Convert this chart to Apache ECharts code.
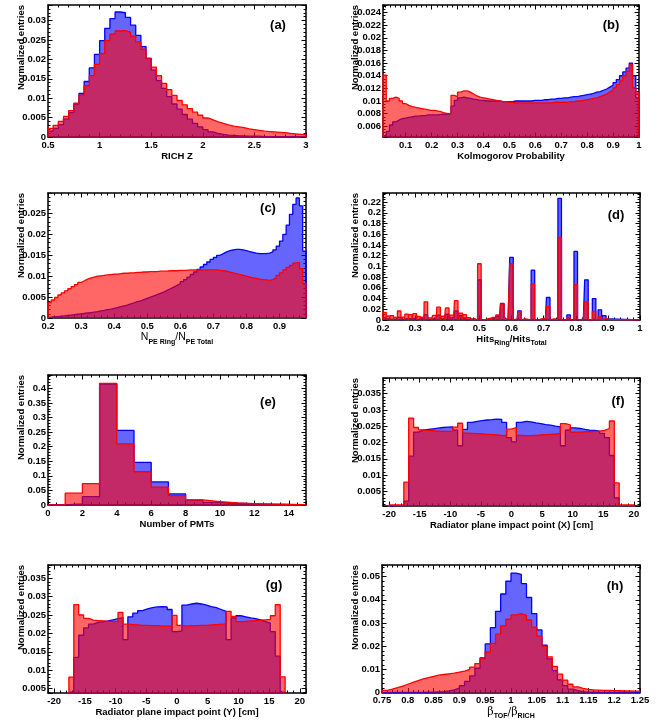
<!DOCTYPE html>
<html><head><meta charset="utf-8">
<script src="https://cdn.jsdelivr.net/npm/echarts@6/dist/echarts.min.js"></script>
<style>html,body{margin:0;padding:0;background:#fff}#c{width:666px;height:721px}</style>
</head><body><div id="c"></div>
<script>
// ---------- DATA ----------
// (a) RICH Z : bins of 0.05 starting at 0.5
const aLo = 0.5, aW = 0.05;
const aBlue = [0.0015,0.0022,0.0032,0.0046,0.0063,0.0085,0.0112,0.0143,0.0178,0.0213,
0.0248,0.0280,0.0305,0.0322,0.0320,0.0308,0.0288,0.0262,0.0233,0.0202,
0.0172,0.0145,0.0125,0.0104,0.0085,0.0072,0.0058,0.0046,0.0035,0.0026,
0.0019,0.0013,0.0009,0.0007,0.0005,0.0004,0.0003,0.0003,0.0002,0.0002,
0.0002,0.0001,0.0001,0.0001,0.0001,0.0001,0.0001,0.0001,0.0001,0.0001];
const aRed = [0.0022,0.0030,0.0040,0.0053,0.0068,0.0087,0.0108,0.0132,0.0158,0.0187,
0.0215,0.0248,0.0265,0.0273,0.0274,0.0270,0.0260,0.0245,0.0226,0.0203,
0.0180,0.0158,0.0138,0.0122,0.0107,0.0094,0.0083,0.0073,0.0064,0.0056,
0.0049,0.0044,0.0039,0.0035,0.0031,0.0028,0.0026,0.0024,0.0021,0.0019,
0.0017,0.0015,0.0014,0.0013,0.0012,0.0011,0.0009,0.0008,0.0007,0.0006];

// (b) Kolmogorov probability : bins of 0.0125 starting at 0.0125
const bLo = 0.0125, bW = 0.0125;
const bRed = [0.0141,0.0100,0.0104,0.0106,0.0104,0.0100,0.0096,0.0093,0.0091,0.0090,
0.0089,0.0088,0.0087,0.0086,0.0085,0.0085,0.0084,0.0083,0.0081,0.0080,
0.0080,0.0109,0.0107,0.0114,0.0116,0.0116,0.0114,0.0111,0.0108,0.0106,
0.0105,0.0104,0.0103,0.0102,0.0101,0.0100,0.0099,0.0099,0.0098,0.0098,
0.0097,0.0097,0.0097,0.0097,0.0097,0.0097,0.0097,0.0097,0.0097,0.0097,
0.0097,0.0097,0.0098,0.0098,0.0098,0.0098,0.0098,0.0099,0.0099,0.0100,
0.0100,0.0101,0.0102,0.0103,0.0104,0.0105,0.0107,0.0109,0.0111,0.0114,
0.0117,0.0121,0.0126,0.0132,0.0140,0.0147,0.0157,0.0121,0.0113];
const bBlue = [0.0045,0.0052,0.0062,0.0067,0.0070,0.0072,0.0073,0.0074,0.0075,0.0076,
0.0076,0.0077,0.0077,0.0078,0.0078,0.0078,0.0078,0.0079,0.0079,0.0079,
0.0080,0.0092,0.0101,0.0105,0.0106,0.0105,0.0104,0.0103,0.0102,0.0101,
0.0101,0.0100,0.0100,0.0100,0.0100,0.0100,0.0099,0.0099,0.0099,0.0099,
0.0100,0.0100,0.0100,0.0100,0.0100,0.0100,0.0101,0.0101,0.0101,0.0102,
0.0102,0.0103,0.0103,0.0104,0.0104,0.0105,0.0105,0.0106,0.0107,0.0107,
0.0108,0.0109,0.0110,0.0111,0.0112,0.0114,0.0115,0.0117,0.0119,0.0122,
0.0125,0.0129,0.0134,0.0140,0.0146,0.0152,0.0160,0.0140,0.0105];

// (c) NPE ring / NPE total : bins of 0.01 starting at 0.2
const cLo = 0.2, cW = 0.01;
const cRed = [0.0037,0.0043,0.0049,0.0055,0.0060,0.0065,0.0070,0.0075,0.0080,0.0085,
0.0089,0.0093,0.0096,0.0098,0.0100,0.0101,0.0102,0.0103,0.0104,0.0105,
0.0105,0.0106,0.0107,0.0107,0.0108,0.0108,0.0109,0.0109,0.0110,0.0110,
0.0111,0.0111,0.0111,0.0112,0.0112,0.0112,0.0113,0.0113,0.0113,0.0114,
0.0114,0.0114,0.0115,0.0115,0.0115,0.0115,0.0115,0.0115,0.0115,0.0115,
0.0115,0.0114,0.0113,0.0112,0.0110,0.0108,0.0106,0.0104,0.0102,0.0100,
0.0098,0.0096,0.0095,0.0093,0.0092,0.0091,0.0090,0.0092,0.0096,0.0102,
0.0108,0.0115,0.0121,0.0126,0.0131,0.0133,0.0118,0.0083];
const cBlue = [0.0002,0.0003,0.0003,0.0004,0.0005,0.0006,0.0007,0.0008,0.0009,0.0010,
0.0011,0.0012,0.0013,0.0014,0.0015,0.0017,0.0018,0.0020,0.0021,0.0023,
0.0025,0.0027,0.0029,0.0031,0.0034,0.0036,0.0039,0.0041,0.0044,0.0047,
0.0050,0.0053,0.0056,0.0059,0.0062,0.0066,0.0070,0.0074,0.0078,0.0082,
0.0087,0.0092,0.0098,0.0104,0.0110,0.0116,0.0122,0.0128,0.0134,0.0140,
0.0145,0.0150,0.0154,0.0158,0.0161,0.0163,0.0164,0.0164,0.0163,0.0161,
0.0159,0.0157,0.0155,0.0154,0.0154,0.0154,0.0155,0.0158,0.0163,0.0172,
0.0184,0.0200,0.0222,0.0248,0.0272,0.0287,0.0268,0.0160];

// (d) Hits ring / Hits total : isolated bins (centres)
const dCenters = [0.2045,0.2160,0.2275,0.2390,0.2505,0.2620,0.2735,0.2850,0.2990,0.3105,
0.3220,0.3335,0.3450,0.3600,0.3730,0.3860,0.4000,0.4140,0.4280,0.4420,
0.4545,0.4670,0.4800,0.5000,0.5200,0.5330,0.5450,0.5570,0.5714,0.5840,
0.6000,0.6125,0.6250,0.6370,0.6667,0.6880,0.7000,0.7143,0.7273,0.7500,
0.7778,0.8000,0.8182,0.8333,0.8571,0.8750,0.8889,0.9000];
const dRed = [0.0144,0.0075,0.0080,0.0050,0.0168,0.0055,0.0110,0.0100,0.0120,0.0065,
0.0055,0.0340,0.0040,0.0085,0.0240,0.0070,0.0225,0.0090,0.0360,0.0130,
0.0100,0.0045,0.0025,0.1050,0.0020,0.0040,0.0050,0.0095,0.0300,0.0030,
0.1050,0.0020,0.0155,0.0020,0.0675,0.0020,0.0030,0.0250,0.0020,0.1540,
0.0050,0.0660,0.0020,0.0340,0.0160,0.0060,0.0030,0.0010];
const dBlue = [0.003,0.001,0.001,0.001,0.005,0.001,0.003,0.002,0.004,0.002,
0.002,0.010,0.001,0.003,0.009,0.003,0.011,0.004,0.017,0.008,
0.004,0.002,0.001,0.075,0.001,0.002,0.003,0.007,0.031,0.002,
0.117,0.001,0.017,0.001,0.093,0.001,0.002,0.042,0.001,0.227,
0.0095,0.128,0.002,0.075,0.040,0.019,0.008,0.002];

// (e) Number of PMTs : bins of 1 starting at 0
const eLo = 0, eW = 1;
const eRed  = [0,0.0406,0.073,0.4176,0.210,0.114,0.0615,0.0325,0.0174,0.0116,0.007,0.005,0.003,0.002,0.0015];
const eBlue = [0,0.004,0.029,0.415,0.256,0.146,0.079,0.038,0.0170,0.009,0.006,0.004,0.003,0.002,0.001];

// (f) impact point X : bins of 0.8 starting at -20
const fLo = -20, fW = 0.8;
const fRed = [0.0008,0.0008,0.0008,0.0078,0.0275,0.0246,0.0239,0.0237,0.0236,0.0235,
0.0234,0.0234,0.0235,0.0247,0.0259,0.0229,0.0228,0.0227,0.0226,0.0225,
0.0224,0.0223,0.0222,0.0221,0.0241,0.0246,0.0222,0.0221,0.0221,0.0222,
0.0223,0.0224,0.0225,0.0226,0.0228,0.0258,0.0254,0.0232,0.0232,0.0233,
0.0233,0.0234,0.0235,0.0237,0.0243,0.0266,0.0076,0.0008,0.0008,0.0008];
const fBlue = [0.0006,0.0006,0.0006,0.0020,0.0158,0.0232,0.0238,0.0240,0.0242,0.0244,
0.0246,0.0247,0.0248,0.0238,0.0190,0.0240,0.0262,0.0265,0.0267,0.0269,
0.0270,0.0272,0.0271,0.0262,0.0215,0.0202,0.0262,0.0265,0.0263,0.0260,
0.0258,0.0255,0.0253,0.0250,0.0248,0.0190,0.0238,0.0245,0.0243,0.0240,
0.0238,0.0237,0.0235,0.0228,0.0215,0.0160,0.0030,0.0006,0.0006,0.0006];

// (g) impact point Y : bins of 0.8 starting at -20
const gLo = -20, gW = 0.8;
const gRed = [0,0,0,0.0081,0.0278,0.0250,0.0241,0.0236,0.0235,0.0234,
0.0233,0.0233,0.0232,0.0257,0.0225,0.0224,0.0223,0.0222,0.0222,0.0221,
0.0221,0.0220,0.0220,0.0220,0.0249,0.0222,0.0220,0.0221,0.0221,0.0222,
0.0222,0.0223,0.0224,0.0225,0.0226,0.0260,0.0246,0.0232,0.0233,0.0234,
0.0235,0.0236,0.0237,0.0238,0.0248,0.0278,0.0082,0,0,0];
const gBlue = [0,0,0,0.0040,0.0135,0.0195,0.0215,0.0225,0.0230,0.0232,
0.0234,0.0237,0.0240,0.0243,0.0183,0.0245,0.0255,0.0262,0.0267,0.0270,
0.0272,0.0273,0.0272,0.0265,0.0205,0.0207,0.0277,0.0280,0.0282,0.0280,
0.0277,0.0273,0.0270,0.0265,0.0260,0.0183,0.0242,0.0248,0.0245,0.0242,
0.0240,0.0237,0.0232,0.0228,0.0205,0.0138,0.0040,0,0,0];

// (h) beta TOF / beta RICH : bins of 0.01 starting at 0.75
const hLo = 0.75, hW = 0.01;
const hRed = [0.0010,0.0015,0.0021,0.0028,0.0036,0.0044,0.0052,0.0059,0.0065,0.0070,
0.0075,0.0078,0.0081,0.0084,0.0088,0.0093,0.0100,0.0110,0.0125,0.0145,
0.0175,0.0212,0.0252,0.0288,0.0317,0.0335,0.0340,0.0333,0.0313,0.0282,
0.0243,0.0199,0.0154,0.0113,0.0080,0.0054,0.0036,0.0025,0.0018,0.0014,
0.0012,0.0011,0.0010,0.0009,0.0008,0.0008,0.0007,0.0007,0.0006,0.0006];
const hBlue = [0.0001,0.0001,0.0001,0.0001,0.0001,0.0001,0.0001,0.0001,0.0002,0.0002,
0.0003,0.0004,0.0007,0.0012,0.0019,0.0030,0.0048,0.0072,0.0105,0.0150,
0.0210,0.0280,0.0350,0.0425,0.0480,0.0515,0.0510,0.0470,0.0410,0.0340,
0.0270,0.0205,0.0145,0.0095,0.0055,0.0030,0.0015,0.0008,0.0004,0.0002,
0.0002,0.0002,0.0001,0.0001,0.0001,0.0001,0.0001,0.0001,0.0001,0.0001];

// axis titles / labels
const yTitle = 'Normalized entries';
const panelLabels = ['(a)','(b)','(c)','(d)','(e)','(f)','(g)','(h)'];
const xTitles = [
  'RICH Z',
  'Kolmogorov Probability',
  '{m|N}{s|PE Ring}{m|/N}{s|PE Total}',
  '{b|Hits}{s|Ring}{b|/Hits}{s|Total}',
  'Number of PMTs',
  'Radiator plane impact point (X) [cm]',
  'Radiator plane impact point (Y) [cm]',
  '{g|\u03b2}{s|TOF}{g|/\u03b2}{s|RICH}'
];

// ---------- helpers ----------
function histPoints(lo, w, vals) {
  const pts = [[lo, 0]];
  vals.forEach((v, i) => pts.push([lo + i * w, v]));
  const end = lo + vals.length * w;
  pts.push([end, vals[vals.length - 1]]);
  pts.push([end, 0]);
  return pts;
}
function barPoints(centers, hw, vals, x0, x1) {
  const pts = [[x0, 0]];
  centers.forEach((c, i) => { pts.push([c - hw, 0], [c - hw, vals[i]], [c + hw, 0]); });
  pts.push([x1, 0]);
  return pts;
}
const series_data = [
  [histPoints(aLo, aW, aBlue), histPoints(aLo, aW, aRed)],
  [histPoints(bLo, bW, bBlue), histPoints(bLo, bW, bRed)],
  [histPoints(cLo, cW, cBlue), histPoints(cLo, cW, cRed)],
  [barPoints(dCenters, 0.0055, dBlue, 0.2, 1.0), barPoints(dCenters, 0.0055, dRed, 0.2, 1.0)],
  [histPoints(eLo, eW, eBlue), histPoints(eLo, eW, eRed)],
  [histPoints(fLo, fW, fBlue), histPoints(fLo, fW, fRed)],
  [histPoints(gLo, gW, gBlue), histPoints(gLo, gW, gRed)],
  [histPoints(hLo, hW, hBlue), histPoints(hLo, hW, hRed)]
];

// ---------- layout ----------
const FONT = 'Liberation Sans';
const panels = [
  {grid:[48,5,258,132],   x:{min:0.5,max:3,iv:0.5,minor:5},      y:{min:0,max:0.034,iv:0.005,minor:5},   lab:[278,25],  ytx:21,  gap:13},
  {grid:[383,5,256,132],  x:{min:0.0125,max:1,iv:0.1,minor:5},   y:{min:0.0043,max:0.0252,iv:0.002,minor:4}, lab:[611,25], ytx:355, gap:12},
  {grid:[48,193,258,125], x:{min:0.2,max:0.98,iv:0.1,minor:5},   y:{min:0,max:0.0299,iv:0.005,minor:5},  lab:[268,208], ytx:21,  gap:9},
  {grid:[383,193,257,127],x:{min:0.2,max:1,iv:0.1,minor:5},      y:{min:0,max:0.237,iv:0.02,minor:4},    lab:[616,215], ytx:355, gap:7},
  {grid:[48,375,258,130], x:{min:0,max:15,iv:2,minor:4},         y:{min:0,max:0.446,iv:0.05,minor:5},    lab:[268,402], ytx:21,  gap:12},
  {grid:[383,378,257,128],x:{min:-21,max:21,iv:5,minor:5},       y:{min:0.0005,max:0.0398,iv:0.005,minor:5}, lab:[618,401], ytx:355, gap:12},
  {grid:[48,565,258,128], x:{min:-21,max:21,iv:5,minor:5},       y:{min:0.0038,max:0.0386,iv:0.005,minor:5}, lab:[274,585], ytx:21, gap:12},
  {grid:[382,565,258,128],x:{min:0.75,max:1.25,iv:0.05,minor:5}, y:{min:0,max:0.055,iv:0.01,minor:5},    lab:[615,586], ytx:355, gap:7}
];

const RICH = {
  m:{fontFamily:FONT,fontSize:10.5,fontWeight:'normal',color:'#000',lineHeight:16},
  b:{fontFamily:FONT,fontSize:9.5,fontWeight:'bold',color:'#000',lineHeight:16},
  g:{fontFamily:'DejaVu Serif',fontSize:11,fontWeight:'normal',color:'#000',lineHeight:16},
  s:{fontFamily:FONT,fontSize:7,fontWeight:'bold',color:'#000',verticalAlign:'bottom'}
};
function isMult(v, iv) { const r = v / iv; return Math.abs(r - Math.round(r)) < 1e-6; }
function fmt(v) { return String(parseFloat(v.toFixed(6))); }

function mkAxis(isX, gi, s, second, name, gap) {
  const a = {
    type:'value', gridIndex:gi, min:s.min, max:s.max,
    minInterval:s.iv, maxInterval:s.iv,
    splitNumber: Math.max(1, Math.round((s.max - s.min) / s.iv)),
    position: isX ? (second ? 'top' : 'bottom') : (second ? 'right' : 'left'),
    axisLine:{show:true,onZero:false,lineStyle:{color:'#000',width:1.5}},
    axisTick:{show:true,inside:true,length:4.5,lineStyle:{color:'#000',width:1}},
    minorTick:{show:true,splitNumber:s.minor,length:2.5,lineStyle:{color:'#000',width:1}},
    splitLine:{show:false}, minorSplitLine:{show:false},
    axisLabel:{show:!second, margin:isX?3:2, color:'#000', fontFamily:FONT, fontSize:9.5, fontWeight:'bold',
      showMinLabel:true, showMaxLabel:true, hideOverlap:false,
      formatter:(v) => isMult(v, s.iv) ? fmt(v) : ''}
  };
  if (name) {
    a.name = name; a.nameLocation = 'middle'; a.nameGap = gap;
    a.nameTextStyle = {color:'#000', fontFamily:FONT, fontSize:9.5, fontWeight:'bold', rich:RICH};
  }
  return a;
}

const grid = [], xAxis = [], yAxis = [], series = [], graphic = [];
panels.forEach((p, i) => {
  grid.push({left:p.grid[0], top:p.grid[1], width:p.grid[2], height:p.grid[3], show:false});
  xAxis.push(mkAxis(true, i, p.x, false, xTitles[i], p.gap));
  xAxis.push(mkAxis(true, i, p.x, true));
  yAxis.push(mkAxis(false, i, p.y, false));
  yAxis.push(mkAxis(false, i, p.y, true));
  const [blue, red] = series_data[i];
  series.push({type:'line', xAxisIndex:2*i, yAxisIndex:2*i, data:blue, step:'end', symbol:'none', showSymbol:false,
    lineStyle:{color:'#0000ff', width:1.3}, itemStyle:{color:'#0000ff'},
    areaStyle:{color:'rgba(0,0,255,0.6)', origin:'start', opacity:1}, clip:true, z:2});
  series.push({type:'line', xAxisIndex:2*i, yAxisIndex:2*i, data:red, step:'end', symbol:'none', showSymbol:false,
    lineStyle:{color:'#ff0000', width:1.3}, itemStyle:{color:'#ff0000'},
    areaStyle:{color:'rgba(255,0,0,0.6)', origin:'start', opacity:1}, clip:true, z:3});
  graphic.push({type:'text', x:p.ytx, y:p.grid[1], rotation:Math.PI/2, z:100,
    style:{text:yTitle, fill:'#000', font:'bold 9.5px "Liberation Sans"', align:'right', textAlign:'right', verticalAlign:'middle', textVerticalAlign:'middle'}});
  graphic.push({type:'text', x:p.lab[0], y:p.lab[1], z:100,
    style:{text:panelLabels[i], fill:'#000', font:'bold 13px "Liberation Sans"', align:'center', textAlign:'center', verticalAlign:'middle', textVerticalAlign:'middle'}});
});

const chart = echarts.init(document.getElementById('c'), null, {renderer:'canvas'});
chart.setOption({animation:false, backgroundColor:'#fff', grid, xAxis, yAxis, series, graphic});
</script>
</body></html>
